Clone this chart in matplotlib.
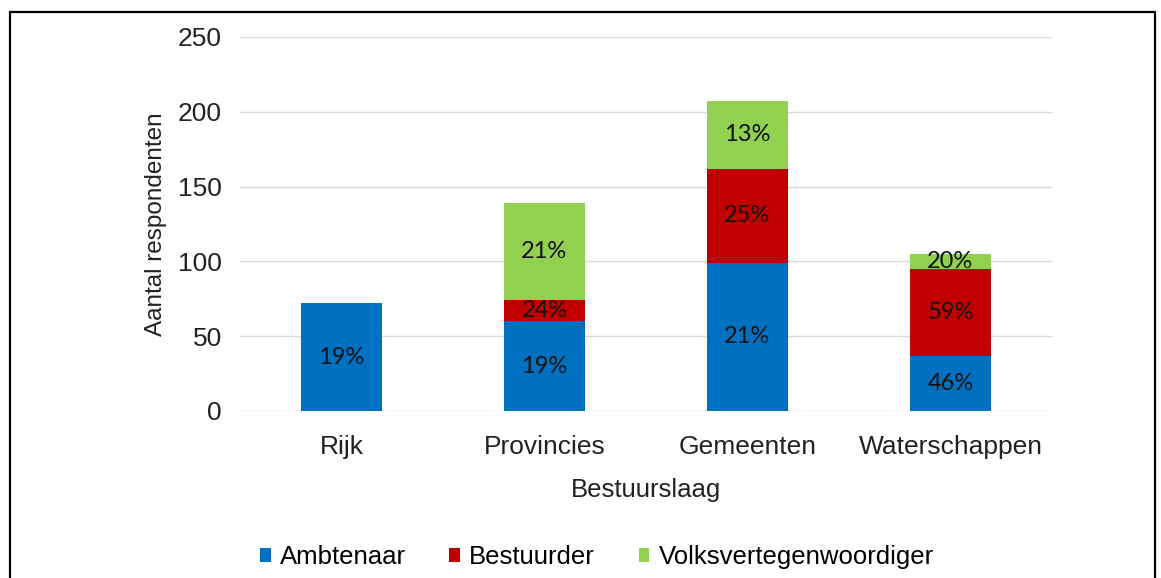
import matplotlib.pyplot as plt
import numpy as np
from matplotlib.patches import Rectangle
from matplotlib import font_manager

# data
categories = ['Rijk', 'Provincies', 'Gemeenten', 'Waterschappen']
ambtenaar = [72, 60, 99, 37]
bestuurder = [0, 14, 63, 58]
volks = [0, 65, 45, 10]
lbl_ambtenaar = ['19%', '19%', '21%', '46%']
lbl_bestuurder = ['', '24%', '25%', '59%']
lbl_volks = ['', '21%', '13%', '20%']

names = {f.name for f in font_manager.fontManager.ttflist}
narrow = 'Liberation Sans Narrow' if 'Liberation Sans Narrow' in names else 'Liberation Sans'

plt.rcParams['font.family'] = ['Liberation Sans', 'DejaVu Sans']

fig = plt.figure(figsize=(11.61, 5.78), dpi=100)
ax = fig.add_axes([0.2067, 0.289, 0.6994, 0.647])

x = np.arange(len(categories))
w = 0.4
blue = '#0070C0'
red = '#C00000'
green = '#92D050'

a = np.array(ambtenaar)
b = np.array(bestuurder)
v = np.array(volks)
ax.bar(x, a, w, color=blue, label='Ambtenaar', zorder=3)
ax.bar(x, b, w, bottom=a, color=red, label='Bestuurder', zorder=3)
ax.bar(x, v, w, bottom=a + b, color=green, label='Volksvertegenwoordiger', zorder=3)

# percentage labels in the middle of each segment
for i in range(len(categories)):
    for vals, base, lbls in [(a, np.zeros(4), lbl_ambtenaar), (b, a, lbl_bestuurder), (v, a + b, lbl_volks)]:
        if lbls[i]:
            ax.text(x[i], base[i] + vals[i] / 2, lbls[i], ha='center', va='center',
                    fontsize=17, family='Lato', color='#111111', zorder=4)

ax.set_xlim(-0.5, 3.5)
ax.set_ylim(0, 250)
ax.set_yticks([0, 50, 100, 150, 200, 250])
ax.set_xticks(x)
ax.set_xticklabels(categories)
ax.tick_params(axis='both', length=0, labelsize=19, colors='#222222')
ax.tick_params(axis='x', pad=17)
ax.tick_params(axis='y', pad=13)
ax.grid(axis='y', color='#d9d9d9', linewidth=1, zorder=0)
for s in ax.spines.values():
    s.set_visible(False)

ax.set_ylabel('Aantal respondenten', fontsize=17.5, color='#222222', labelpad=8)
ax.set_xlabel('Bestuurslaag', fontsize=18.5, color='#222222', labelpad=14)

leg = fig.legend(loc='center', bbox_to_anchor=(0.514, 0.036), ncol=3, frameon=False,
                 prop={'family': narrow, 'size': 18.5}, handlelength=0.42, handleheight=0.42,
                 handletextpad=0.35, columnspacing=1.7)

# outer frame
fig.patches.append(Rectangle((10 / 1161, -0.05), 1145 / 1161, 1 - 12 / 578 + 0.05,
                             transform=fig.transFigure, fill=False, edgecolor='black',
                             linewidth=1.6))

fig.savefig('out.png', dpi=100)
